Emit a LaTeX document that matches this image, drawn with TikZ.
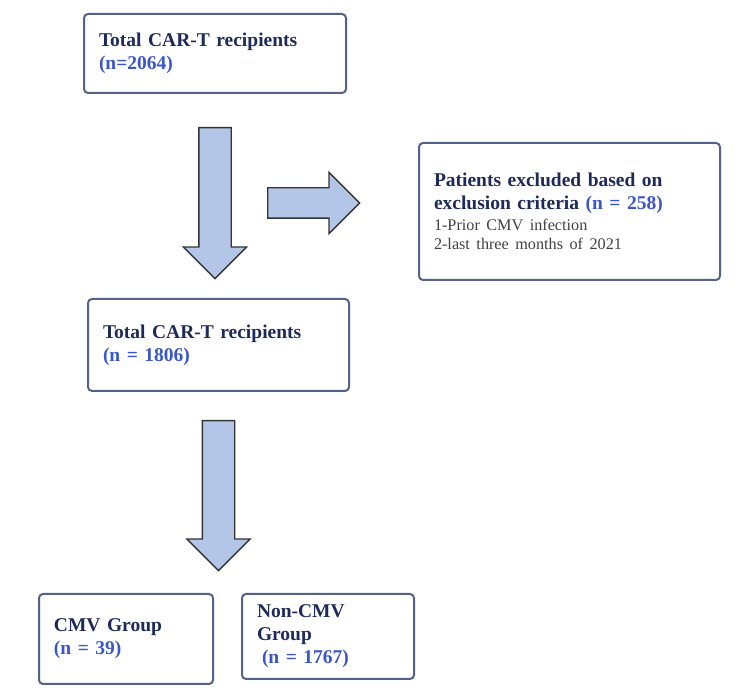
\documentclass[tikz,border=0pt]{standalone}
\usepackage{fontspec}
\setmainfont{Liberation Serif}
\usepackage{tikz}
\usetikzlibrary{arrows.meta,positioning,shapes.arrows,calc}
\definecolor{boxline}{RGB}{84,98,138}
\definecolor{titlenavy}{RGB}{30,42,90}
\definecolor{countblue}{RGB}{58,86,200}
\definecolor{arrowfill}{RGB}{180,198,231}
\definecolor{notegray}{RGB}{64,64,64}
\tikzset{
  flow/box/.style={draw=boxline, line width=1pt, rounded corners=2pt, inner xsep=7.5pt, inner ysep=0pt, align=left, font=\fontsize{9.75}{11.5}\selectfont\bfseries, text=titlenavy},
  flow/arrow/.style={shape=single arrow, draw=black!80, line width=0.7pt, fill=arrowfill, inner xsep=0pt, inner ysep=7.75pt, single arrow head extend=7.75pt, single arrow tip angle=90},
  flow/down/.style={flow/arrow, rotate=-90, anchor=tail}
}
\newcommand{\ncount}[1]{\textcolor{countblue}{#1}}
\newcommand{\critline}[1]{{\fontsize{8.1}{9.8}\selectfont\mdseries\color{notegray}#1}}

\begin{document}
\begin{tikzpicture}[x=0.5pt, y=-0.5pt]
  \useasboundingbox (0,0) rectangle (750,699);

  \node[flow/box, text width=116pt, minimum height=39.5pt] (total) at (215,53.5) {Total CAR-T recipients\\ \ncount{(n=2064)}};
  \node[flow/box, text width=135.5pt, minimum height=68.5pt] (excluded) at (569.5,211.5) {Patients excluded based on\\ exclusion criteria \ncount{(n = 258)}\\[-1pt] \critline{1-Prior CMV infection}\\[-2pt] \critline{2-last three months of 2021}};
  \node[flow/box, text width=115.5pt, minimum height=46pt] (remaining) at (218.5,345) {Total CAR-T recipients\\ \ncount{(n = 1806)}};
  \node[flow/box, text width=72pt, minimum height=45pt] (cmv) at (126,639) {CMV Group\\ \ncount{(n = 39)}};
  \node[flow/box, text width=71pt, minimum height=42.5pt] (noncmv) at (328,636.5) {Non-CMV\\ Group\\ \hspace*{2.5pt}\ncount{(n = 1767)}};

  \node[flow/down, minimum height=75.5pt] (down1) at ([yshift=-16.5pt]total.south) {};
  \node[flow/arrow, anchor=tail, minimum height=46pt, inner ysep=7.25pt] (side) at (267,203) {};
  \node[flow/down, minimum height=75pt] (down2) at ([yshift=-14pt]remaining.south) {};
\end{tikzpicture}
\end{document}
